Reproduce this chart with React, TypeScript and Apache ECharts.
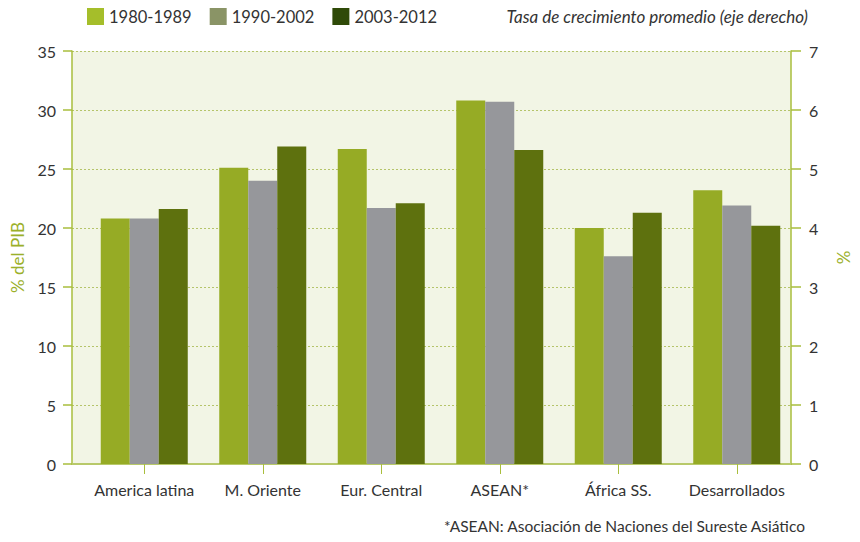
import React, { useEffect, useRef } from "react";
import * as echarts from "echarts";

const categories = ["America latina", "M. Oriente", "Eur. Central", "ASEAN*", "África SS.", "Desarrollados"];
const seriesNames = ["1980-1989", "1990-2002", "2003-2012"];
const s1980 = [20.8, 25.1, 26.7, 30.8, 20.0, 23.2];
const s1990 = [20.8, 24.0, 21.7, 30.7, 17.6, 21.9];
const s2003 = [21.6, 26.9, 22.1, 26.6, 21.3, 20.2];
const leftTicks = [0, 35, 5];
const rightTicks = [0, 7, 1];

const barColors = ["#96AB25", "#96979B", "#5E710E"];
const legendColors = ["#A5BE2A", "#8A9466", "#2F4A08"];
const FONT = "Lato, 'Open Sans', sans-serif";

export default function App() {
  const ref = useRef<HTMLDivElement>(null);
  useEffect(() => {
    document.body.style.margin = "0";
    const chart = echarts.init(ref.current!, null, { renderer: "svg" });
    const data = [s1980, s1990, s2003];
    chart.setOption({
      animation: false,
      textStyle: { fontFamily: FONT },
      legend: {
        left: 87,
        top: 8,
        padding: 0,
        itemWidth: 17,
        itemHeight: 17,
        itemGap: 18,
        icon: "rect",
        textStyle: { fontSize: 16.5, color: "#333", fontFamily: FONT },
        data: seriesNames.map((n, i) => ({ name: n, itemStyle: { color: legendColors[i] } })),
      },
      graphic: [
        {
          type: "text",
          right: 52,
          top: 8,
          style: {
            text: "Tasa de crecimiento promedio (eje derecho)",
            fontSize: 17,
            fontStyle: "italic",
            fill: "#333",
            fontFamily: FONT,
          },
        },
        {
          type: "text",
          right: 54,
          top: 518,
          style: {
            text: "*ASEAN: Asociación de Naciones del Sureste Asiático",
            fontSize: 15.5,
            fill: "#333",
            fontFamily: FONT,
          },
        },
      ],
      grid: [
        { left: 72, right: 52, top: 51, bottom: 78, show: true, backgroundColor: "#F2F5E5", borderWidth: 0 },
        { left: 85, width: 711, top: 51, bottom: 78 },
      ],
      xAxis: [
        {
          gridIndex: 0,
          type: "value",
          min: 0,
          max: 1,
          axisLine: { show: true, lineStyle: { color: "#B8C96A", width: 2 } },
          axisTick: { show: false },
          axisLabel: { show: false },
          splitLine: { show: false },
        },
        {
          gridIndex: 1,
          type: "category",
          data: categories,
          axisLine: { show: false },
          axisTick: { show: true, alignWithLabel: true, length: 10, lineStyle: { color: "#A9BE3C" } },
          axisLabel: { fontSize: 16, color: "#333", margin: 17, interval: 0, fontFamily: FONT },
        },
      ],
      yAxis: [
        {
          gridIndex: 0,
          type: "value",
          min: leftTicks[0],
          max: leftTicks[1],
          interval: leftTicks[2],
          name: "% del PIB",
          nameLocation: "middle",
          nameRotate: 90,
          nameGap: 46,
          nameTextStyle: { color: "#9BB02A", fontSize: 17, fontFamily: FONT },
          axisLine: { show: true, lineStyle: { color: "#A9BE3C", width: 1.5 } },
          axisTick: { show: true, length: 9, lineStyle: { color: "#A9BE3C", width: 1.5 } },
          axisLabel: { fontSize: 16, color: "#333", margin: 16, fontFamily: FONT },
          splitLine: { show: true, lineStyle: { color: "#B5C46A", type: [2, 2], width: 1 } },
        },
        {
          gridIndex: 0,
          type: "value",
          position: "right",
          min: rightTicks[0],
          max: rightTicks[1],
          interval: rightTicks[2],
          name: "%",
          nameLocation: "middle",
          nameRotate: 90,
          nameGap: 44,
          nameTextStyle: { color: "#9BB02A", fontSize: 17, fontFamily: FONT },
          axisLine: { show: true, lineStyle: { color: "#A9BE3C", width: 1.5 } },
          axisTick: { show: true, length: 10, lineStyle: { color: "#A9BE3C", width: 1.5 } },
          axisLabel: { fontSize: 16, color: "#333", margin: 18, fontFamily: FONT },
          splitLine: { show: false },
        },
        {
          gridIndex: 1,
          type: "value",
          min: leftTicks[0],
          max: leftTicks[1],
          show: false,
        },
      ],
      series: seriesNames.map((n, i) => ({
        name: n,
        type: "bar",
        xAxisIndex: 1,
        yAxisIndex: 2,
        data: data[i],
        barWidth: 29,
        barGap: "0%",
        itemStyle: { color: barColors[i] },
        z: 3,
      })),
    });
    return () => chart.dispose();
  }, []);
  return <div ref={ref} style={{ width: 860, height: 542 }} />;
}
